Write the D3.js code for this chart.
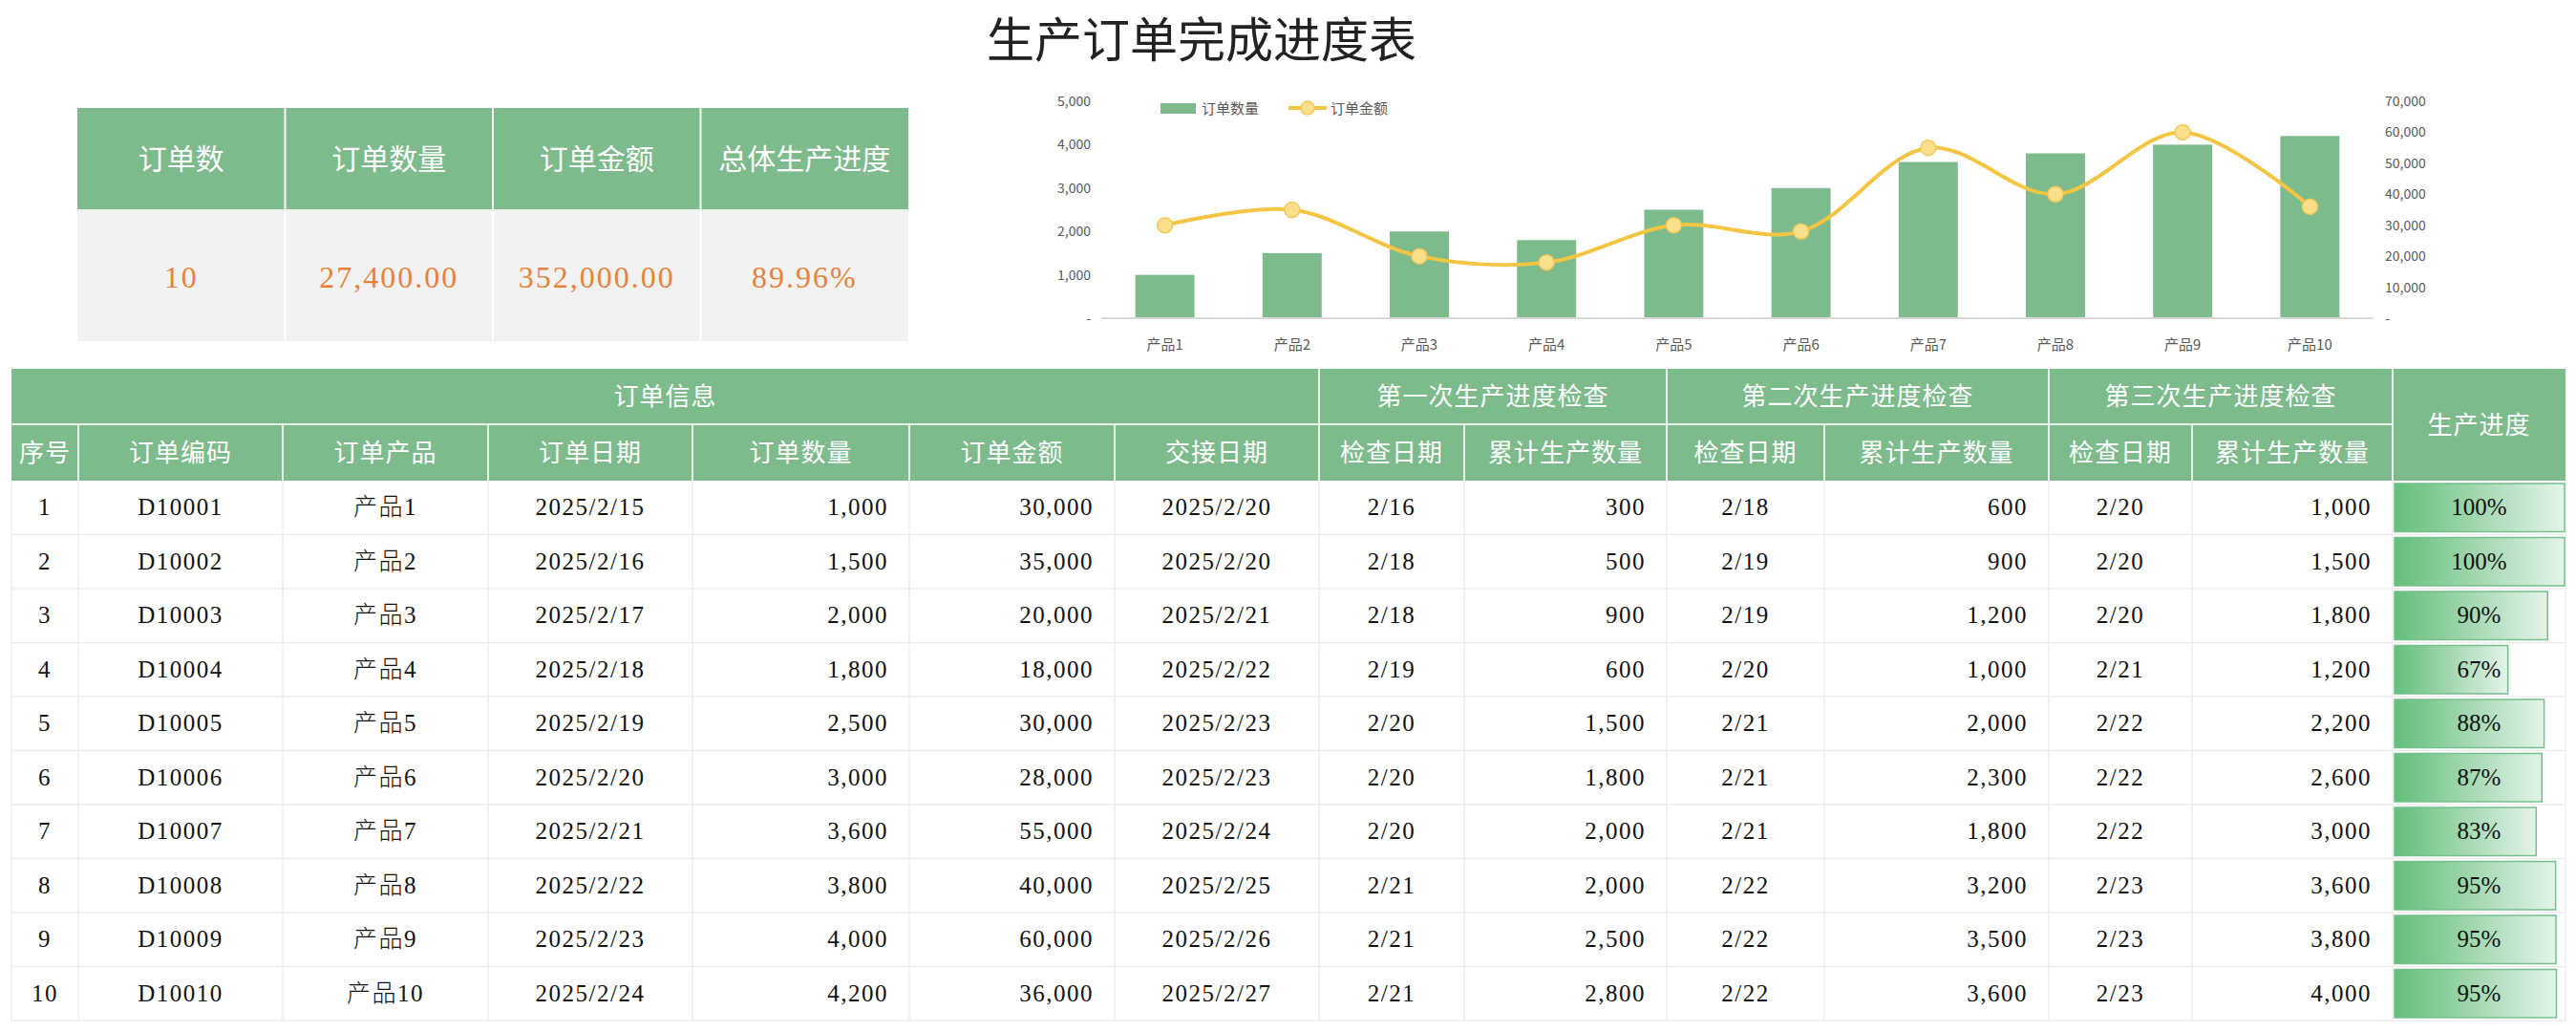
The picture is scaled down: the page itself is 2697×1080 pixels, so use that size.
<!DOCTYPE html>
<html>
<head>
<meta charset="utf-8">
<script src="https://cdn.jsdelivr.net/npm/d3@7"></script>
<style>
  body { margin: 0; background: #fff; }
  svg { display: block; }
</style>
</head>
<body>
<div id="sheet"></div>
<script>
// ---- data ----
const summaryLabels = ["订单数", "订单数量", "订单金额", "总体生产进度"];
const summaryValues = [10, 27400, 352000, 0.8996];

const seqNo = [1, 2, 3, 4, 5, 6, 7, 8, 9, 10];
const orderCodes = ["D10001", "D10002", "D10003", "D10004", "D10005", "D10006", "D10007", "D10008", "D10009", "D10010"];
const products = ["产品1", "产品2", "产品3", "产品4", "产品5", "产品6", "产品7", "产品8", "产品9", "产品10"];
const orderDates = ["2025/2/15", "2025/2/16", "2025/2/17", "2025/2/18", "2025/2/19", "2025/2/20", "2025/2/21", "2025/2/22", "2025/2/23", "2025/2/24"];
const quantities = [1000, 1500, 2000, 1800, 2500, 3000, 3600, 3800, 4000, 4200];
const amounts = [30000, 35000, 20000, 18000, 30000, 28000, 55000, 40000, 60000, 36000];
const handoverDates = ["2025/2/20", "2025/2/20", "2025/2/21", "2025/2/22", "2025/2/23", "2025/2/23", "2025/2/24", "2025/2/25", "2025/2/26", "2025/2/27"];
const check1Dates = ["2/16", "2/18", "2/18", "2/19", "2/20", "2/20", "2/20", "2/21", "2/21", "2/21"];
const check1Qty = [300, 500, 900, 600, 1500, 1800, 2000, 2000, 2500, 2800];
const check2Dates = ["2/18", "2/19", "2/19", "2/20", "2/21", "2/21", "2/21", "2/22", "2/22", "2/22"];
const check2Qty = [600, 900, 1200, 1000, 2000, 2300, 1800, 3200, 3500, 3600];
const check3Dates = ["2/20", "2/20", "2/20", "2/21", "2/22", "2/22", "2/22", "2/23", "2/23", "2/23"];
const check3Qty = [1000, 1500, 1800, 1200, 2200, 2600, 3000, 3600, 3800, 4000];
const progress = [1, 1, 0.9, 0.6667, 0.88, 0.8667, 0.8333, 0.9474, 0.95, 0.9524];

const leftTicks = [0, 1000, 2000, 3000, 4000, 5000];
const rightTicks = [0, 10000, 20000, 30000, 40000, 50000, 60000, 70000];

const groupHeaders = ["订单信息", "第一次生产进度检查", "第二次生产进度检查", "第三次生产进度检查", "生产进度"];
const colHeaders = ["序号", "订单编码", "订单产品", "订单日期", "订单数量", "订单金额", "交接日期",
                    "检查日期", "累计生产数量", "检查日期", "累计生产数量", "检查日期", "累计生产数量"];

// ---- look ----
const W = 2697, H = 1080;
const green = "#7dbb8d";
const cjk = "'Noto Sans CJK SC', sans-serif";
const serif = "'Liberation Serif', 'Noto Sans CJK SC', serif";
const fmt = d3.format(",");

const svg = d3.select("#sheet").append("svg")
    .attr("width", W).attr("height", H)
    .style("background", "#fff");

const defs = svg.append("defs");
const grad = defs.append("linearGradient").attr("id", "barGrad")
    .attr("x1", "0%").attr("x2", "100%").attr("y1", "0%").attr("y2", "0%");
grad.append("stop").attr("offset", "0%").attr("stop-color", "#63be7b");
grad.append("stop").attr("offset", "100%").attr("stop-color", "#e4f3e8");

// title
svg.append("text")
    .attr("x", 1258).attr("y", 60)
    .attr("text-anchor", "middle")
    .style("font-family", cjk).style("font-size", "50px").style("fill", "#222")
    .text("生产订单完成进度表");

// ---- summary block ----
const sumX = d3.scaleBand().domain(summaryLabels).range([81, 951]);
const sumTop = 113, sumMid = 220, sumBot = 357;
const sumG = svg.append("g");
sumG.append("rect").attr("x", 81).attr("y", sumTop).attr("width", 870).attr("height", sumMid - sumTop).attr("fill", green);
sumG.append("rect").attr("x", 81).attr("y", sumMid).attr("width", 870).attr("height", sumBot - sumMid).attr("fill", "#f2f2f2");
sumG.selectAll("line.sep").data(summaryLabels.slice(1)).enter().append("line")
    .attr("x1", d => sumX(d)).attr("x2", d => sumX(d))
    .attr("y1", sumTop).attr("y2", sumBot)
    .attr("stroke", "#fff").attr("stroke-width", 2);
sumG.append("line").attr("x1", 81).attr("x2", 951).attr("y1", sumMid).attr("y2", sumMid)
    .attr("stroke", "#e9f3ec").attr("stroke-width", 2);
sumG.selectAll("text.lab").data(summaryLabels).enter().append("text")
    .attr("x", d => sumX(d) + sumX.bandwidth() / 2).attr("y", 177)
    .attr("text-anchor", "middle")
    .style("font-family", cjk).style("font-size", "30px").style("fill", "#fff")
    .text(d => d);
const sumFormats = [d3.format("d"), d3.format(",.2f"), d3.format(",.2f"), d3.format(".2%")];
sumG.selectAll("text.val").data(summaryValues).enter().append("text")
    .attr("x", (d, i) => sumX(summaryLabels[i]) + sumX.bandwidth() / 2).attr("y", 301)
    .attr("text-anchor", "middle")
    .style("font-family", serif).style("font-size", "32px").style("letter-spacing", "2px")
    .style("fill", "#e8823a")
    .text((d, i) => sumFormats[i](d));

// ---- combo chart ----
const x = d3.scaleBand().domain(products).range([1153, 2485]).padding(0);
const yL = d3.scaleLinear().domain([0, 5000]).range([333, 106]);
const yR = d3.scaleLinear().domain([0, 70000]).range([333, 106]);
const barW = x.bandwidth() * 0.465;
const cx = d => x(d) + x.bandwidth() / 2;

const chart = svg.append("g");

const axL = chart.append("g").attr("transform", "translate(1142,0)")
    .call(d3.axisLeft(yL).tickValues(leftTicks).tickSize(0).tickPadding(0)
        .tickFormat(d => d === 0 ? "-" : fmt(d)));
const axR = chart.append("g").attr("transform", "translate(2497,0)")
    .call(d3.axisRight(yR).tickValues(rightTicks).tickSize(0).tickPadding(0)
        .tickFormat(d => d === 0 ? "-" : fmt(d)));
[axL, axR].forEach(a => {
  a.select(".domain").remove();
  a.selectAll("text").style("font-family", cjk).style("font-size", "14px").style("fill", "#595959");
});

chart.append("g").selectAll("rect").data(products).enter().append("rect")
    .attr("x", d => cx(d) - barW / 2)
    .attr("y", (d, i) => yL(quantities[i]))
    .attr("width", barW)
    .attr("height", (d, i) => yL(0) - yL(quantities[i]))
    .attr("fill", green);

chart.append("line").attr("x1", 1153).attr("x2", 2485).attr("y1", yL(0)).attr("y2", yL(0))
    .attr("stroke", "#d9d9d9").attr("stroke-width", 2);

const axX = chart.append("g").attr("transform", "translate(0," + yL(0) + ")")
    .call(d3.axisBottom(x).tickSize(0).tickPadding(22));
axX.select(".domain").remove();
axX.selectAll("text").style("font-family", cjk).style("font-size", "15px").style("fill", "#595959");

const line = d3.line()
    .x(d => cx(d))
    .y((d, i) => yR(amounts[i]))
    .curve(d3.curveCatmullRom.alpha(0.5));
chart.append("path").datum(products)
    .attr("d", line)
    .attr("fill", "none").attr("stroke", "#f4c443").attr("stroke-width", 4);
chart.append("g").selectAll("circle").data(products).enter().append("circle")
    .attr("cx", d => cx(d)).attr("cy", (d, i) => yR(amounts[i]))
    .attr("r", 8)
    .attr("fill", "#fbe08c").attr("stroke", "#f4c85a").attr("stroke-width", 1.5);

// legend
const lg = chart.append("g");
lg.append("rect").attr("x", 1215).attr("y", 108).attr("width", 37).attr("height", 11).attr("fill", green);
lg.append("text").attr("x", 1258).attr("y", 119)
    .style("font-family", cjk).style("font-size", "15px").style("fill", "#595959").text("订单数量");
lg.append("line").attr("x1", 1349).attr("x2", 1389).attr("y1", 113).attr("y2", 113)
    .attr("stroke", "#f4c443").attr("stroke-width", 4);
lg.append("circle").attr("cx", 1369).attr("cy", 113).attr("r", 7)
    .attr("fill", "#fbe08c").attr("stroke", "#f4c85a").attr("stroke-width", 1.5);
lg.append("text").attr("x", 1393).attr("y", 119)
    .style("font-family", cjk).style("font-size", "15px").style("fill", "#595959").text("订单金额");

// ---- detail table ----
const colEdges = [12, 82, 296, 511, 725, 952, 1167, 1381, 1533, 1745, 1910, 2145, 2295, 2505, 2686];
const hTop = 386, hMid = 444, hBot = 503;
const rowY = d3.scaleBand().domain(seqNo).range([hBot, 1068]);
const align = ["c", "c", "c", "c", "r", "r", "c", "c", "r", "c", "r", "c", "r"];

const tbl = svg.append("g");
tbl.append("rect").attr("x", 12).attr("y", hTop).attr("width", 2686 - 12).attr("height", hBot - hTop).attr("fill", green);

// group header spans: [startCol, endCol]
const groupSpans = [[0, 7], [7, 9], [9, 11], [11, 13], [13, 14]];
groupSpans.forEach((s, i) => {
  const x0 = colEdges[s[0]], x1 = colEdges[s[1]];
  const tall = i === 4;
  tbl.append("text")
      .attr("x", (x0 + x1) / 2)
      .attr("y", tall ? (hTop + hBot) / 2 + 9 : (hTop + hMid) / 2 + 9)
      .attr("text-anchor", "middle")
      .style("font-family", cjk).style("font-size", "26px").style("letter-spacing", "1px").style("fill", "#fff")
      .text(groupHeaders[i]);
  if (i > 0) {
    tbl.append("line").attr("x1", x0).attr("x2", x0).attr("y1", hTop).attr("y2", hBot)
        .attr("stroke", "#e6f2e9").attr("stroke-width", 2);
  }
});
tbl.append("line").attr("x1", 12).attr("x2", colEdges[13]).attr("y1", hMid).attr("y2", hMid)
    .attr("stroke", "#e6f2e9").attr("stroke-width", 2);
colHeaders.forEach((h, i) => {
  const x0 = colEdges[i], x1 = colEdges[i + 1];
  tbl.append("text")
      .attr("x", (x0 + x1) / 2).attr("y", (hMid + hBot) / 2 + 9)
      .attr("text-anchor", "middle")
      .style("font-family", cjk).style("font-size", "26px").style("letter-spacing", "1px").style("fill", "#fff")
      .text(h);
  if (i > 0 && ![7, 9, 11].includes(i)) {
    tbl.append("line").attr("x1", x0).attr("x2", x0).attr("y1", hMid).attr("y2", hBot)
        .attr("stroke", "#e6f2e9").attr("stroke-width", 2);
  }
});

// data grid lines
tbl.append("g").selectAll("line").data(seqNo).enter().append("line")
    .attr("x1", 12).attr("x2", 2686)
    .attr("y1", d => rowY(d) + rowY.bandwidth()).attr("y2", d => rowY(d) + rowY.bandwidth())
    .attr("stroke", "#ececec").attr("stroke-width", 1.5);
tbl.append("g").selectAll("line").data(colEdges).enter().append("line")
    .attr("x1", d => d).attr("x2", d => d)
    .attr("y1", hBot).attr("y2", 1068)
    .attr("stroke", "#ececec").attr("stroke-width", 1.5);

const columns = [seqNo, orderCodes, products, orderDates, quantities.map(fmt), amounts.map(fmt), handoverDates,
                 check1Dates, check1Qty.map(fmt), check2Dates, check2Qty.map(fmt), check3Dates, check3Qty.map(fmt)];
columns.forEach((col, c) => {
  const x0 = colEdges[c], x1 = colEdges[c + 1];
  tbl.append("g").selectAll("text").data(col).enter().append("text")
      .attr("x", align[c] === "r" ? x1 - 22 : (x0 + x1) / 2)
      .attr("y", (d, i) => rowY(seqNo[i]) + rowY.bandwidth() / 2 + 8)
      .attr("text-anchor", align[c] === "r" ? "end" : "middle")
      .style("font-family", serif).style("font-size", "25px").style("font-weight", 300)
      .style("letter-spacing", "1.5px").style("fill", "#111")
      .text(d => d);
});

// progress data bars
const pX0 = colEdges[13] + 2, pX1 = colEdges[14] - 1;
const pw = d3.scaleLinear().domain([0, 1]).range([0, pX1 - pX0]);
const pg = tbl.append("g");
pg.selectAll("rect").data(progress).enter().append("rect")
    .attr("x", pX0)
    .attr("y", (d, i) => rowY(seqNo[i]) + 3)
    .attr("width", d => pw(d))
    .attr("height", rowY.bandwidth() - 6)
    .attr("fill", "url(#barGrad)")
    .attr("stroke", "#74c08c").attr("stroke-width", 1.5);
pg.selectAll("text").data(progress).enter().append("text")
    .attr("x", (colEdges[13] + colEdges[14]) / 2)
    .attr("y", (d, i) => rowY(seqNo[i]) + rowY.bandwidth() / 2 + 8)
    .attr("text-anchor", "middle")
    .style("font-family", serif).style("font-size", "25px").style("fill", "#111")
    .text(d => Math.round(d * 100) + "%");
</script>
</body>
</html>
